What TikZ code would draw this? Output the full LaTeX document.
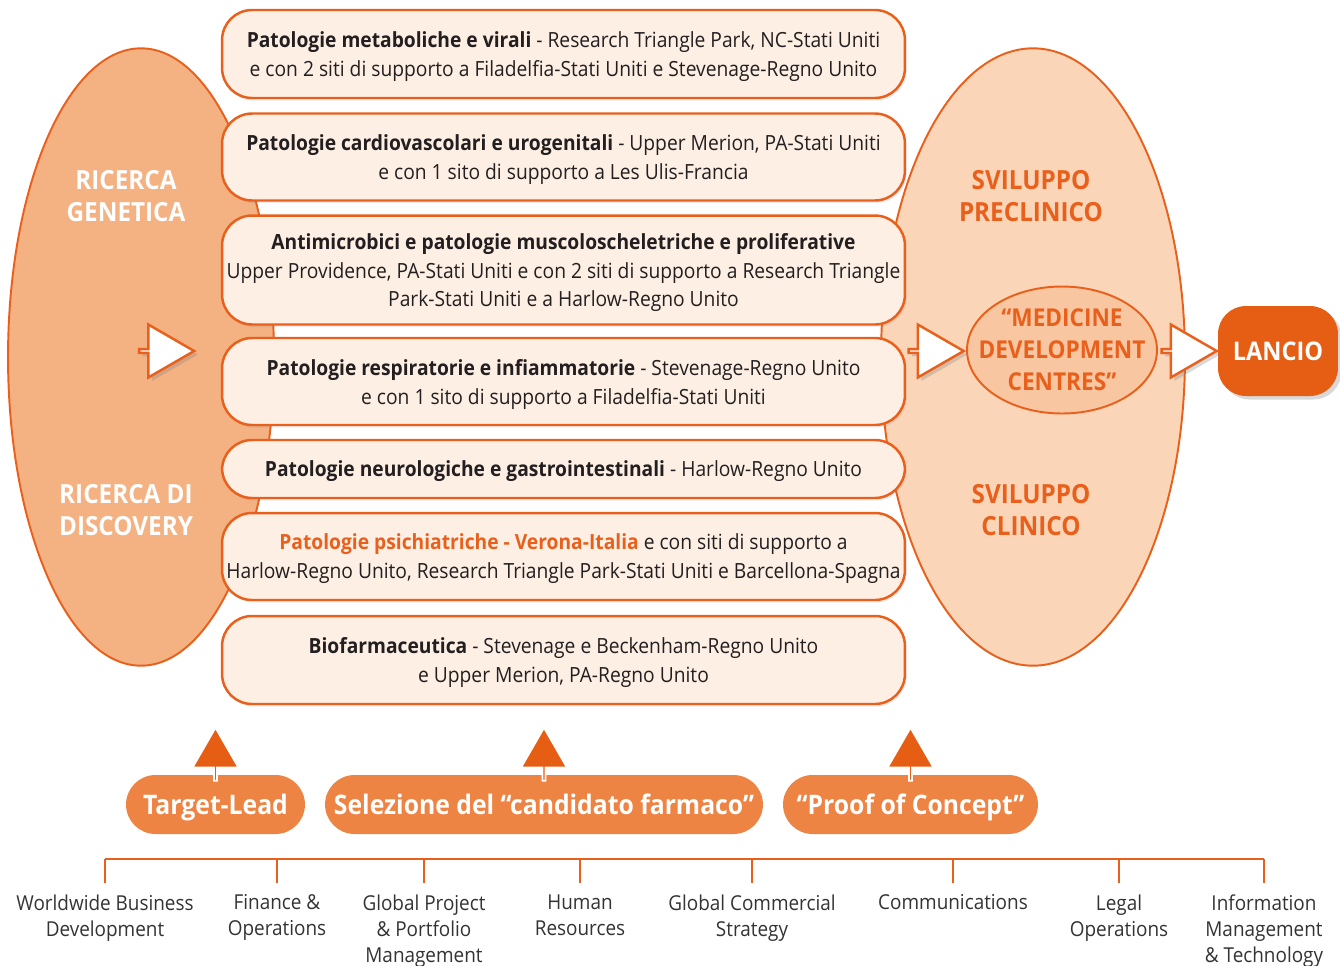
\documentclass[tikz,border=0pt]{standalone}
\usepackage{fontspec}
\setmainfont{Open Sans}[FakeStretch=0.92]
\usetikzlibrary{shapes.geometric,shapes.arrows,shadows}

\definecolor{gskorange}{HTML}{E8601C}
\definecolor{leftfill}{HTML}{F4B182}
\definecolor{rightfill}{HTML}{FAD5B7}
\definecolor{boxfill}{HTML}{FDEFE4}
\definecolor{mdcfill}{HTML}{F8C6A0}
\definecolor{pillfill}{HTML}{EE8443}
\definecolor{darkorange}{HTML}{E65E14}
\definecolor{testo}{HTML}{231F20}
\definecolor{grigio}{HTML}{333333}

\tikzset{
  sede/.style={draw=gskorange, line width=1.4pt, fill=boxfill, rounded corners=0.6cm,
    minimum width=13.66cm, inner xsep=0pt, text depth=-1.5pt, align=center, text=testo,
    font=\fontsize{11.9}{16.5}\selectfont,
    drop shadow={opacity=0.15, shadow xshift=1pt, shadow yshift=-1.5pt}},
  fase/.style={ellipse, draw=gskorange, line width=1.1pt, inner sep=0pt},
  titolo/.style={align=center, font=\bfseries\fontsize{15}{18.2}\selectfont},
  freccia/.style={single arrow, draw=gskorange, fill=white, line width=1.4pt, inner sep=0pt,
    minimum height=1.1cm, minimum width=1.06cm, single arrow head extend=0.31cm,
    single arrow tip angle=60, drop shadow={opacity=0.3, shadow xshift=2pt, shadow yshift=-2pt}},
  su/.style={single arrow, rotate=90, fill=darkorange, draw=white, line width=1pt,
    inner sep=0pt, minimum height=1.06cm, minimum width=0.92cm, single arrow head extend=0.26cm,
    single arrow tip angle=60},
  tappa/.style={fill=pillfill, rounded corners=0.59cm, minimum height=1.18cm, text=white,
    text height=11pt, text depth=0pt, font=\bfseries\fontsize{15.3}{18}\selectfont},
  funzione/.style={align=center, anchor=north, text=grigio, inner xsep=2pt, inner ysep=6.5pt,
    font=\fontsize{11.7}{14.8}\selectfont},
  albero/.style={draw=gskorange, line width=1.3pt}
}

\begin{document}
\begin{tikzpicture}[x=0.02cm, y=-0.02cm]
    % the picture is measured in pixels of the original
    \useasboundingbox (0,0) rectangle (1340,965);

    % Research and development phases
    \node[fase, fill=leftfill, minimum width=5.32cm, minimum height=12.35cm] (ricerca) at (141,357) {};
    \node[fase, fill=rightfill, minimum width=6.08cm, minimum height=12.35cm] (sviluppo) at (1033,357) {};

    \node[titolo, text=white] (genetica) at (126,196) {RICERCA\\GENETICA};
    \node[titolo, text=white] (discovery) at (126,510) {RICERCA DI\\DISCOVERY};
    \node[titolo, text=gskorange] (preclinico) at (1031,196) {SVILUPPO\\PRECLINICO};
    \node[titolo, text=gskorange] (clinico) at (1031,510) {SVILUPPO\\CLINICO};

    % Therapeutic areas and their sites
    \node[sede, minimum height=1.76cm] (metab) at (563.5,54)
        {\textbf{Patologie metaboliche e virali} - Research Triangle Park, NC-Stati Uniti\\
         e con 2 siti di supporto a Filadelfia-Stati Uniti e Stevenage-Regno Unito};
    \node[sede, minimum height=1.74cm] (cardio) at (563.5,157)
        {\textbf{Patologie cardiovascolari e urogenitali} - Upper Merion, PA-Stati Uniti\\
         e con 1 sito di supporto a Les Ulis-Francia};
    \node[sede, minimum height=2.18cm] (antimicro) at (563.5,270)
        {\textbf{Antimicrobici e patologie muscoloscheletriche e proliferative}\\
         Upper Providence, PA-Stati Uniti e con 2 siti di supporto a Research Triangle\\
         Park-Stati Uniti e a Harlow-Regno Unito};
    \node[sede, minimum height=1.74cm] (respir) at (563.5,381.5)
        {\textbf{Patologie respiratorie e infiammatorie} - Stevenage-Regno Unito\\
         e con 1 sito di supporto a Filadelfia-Stati Uniti};
    \node[sede, minimum height=1.16cm] (neuro) at (563.5,469)
        {\textbf{Patologie neurologiche e gastrointestinali} - Harlow-Regno Unito};
    \node[sede, minimum height=1.74cm] (psich) at (563.5,556.5)
        {{\color{gskorange}\bfseries Patologie psichiatriche - Verona-Italia} e con siti di supporto a\\
         Harlow-Regno Unito, Research Triangle Park-Stati Uniti e Barcellona-Spagna};
    \node[sede, minimum height=1.76cm] (biofarm) at (563.5,660)
        {\textbf{Biofarmaceutica} - Stevenage e Beckenham-Regno Unito\\
         e Upper Merion, PA-Regno Unito};

    % Medicine development centres and launch
    \node[fase, fill=mdcfill, minimum width=3.8cm, minimum height=2.54cm] (mdc) at (1062,350) {};
    \node[text=gskorange, align=center, font=\bfseries\fontsize{14}{18.2}\selectfont] (mdctxt)
        at (mdc.center) {“MEDICINE\\DEVELOPMENT\\CENTRES”};
    \node[fill=darkorange, rounded corners=0.56cm, minimum width=2.4cm, minimum height=1.8cm,
        text=white, text height=10.5pt, text depth=0pt, font=\bfseries\fontsize{14.6}{18}\selectfont,
        drop shadow={opacity=0.3, shadow xshift=2pt, shadow yshift=-2pt}] (lancio) at (1278,351) {LANCIO};

    % Flow arrows
    \node[freccia] (f1) at (165,351) {};
    \node[freccia] (f2) at (934.5,351) {};
    \node[freccia] (f3) at (1187.5,351) {};

    % Milestones
    \node[tappa, minimum width=3.58cm] (target) at (215.5,804.5) {Target-Lead};
    \node[tappa, minimum width=8.76cm] (selezione) at (544,804.5) {Selezione del “candidato farmaco”};
    \node[tappa, minimum width=5.1cm] (proof) at (910.5,804.5) {“Proof of Concept”};

    \node[su] (su1) at (215.5,755.5) {};
    \node[su] (su2) at (544,755.5) {};
    \node[su] (su3) at (910.5,755.5) {};

    % Support functions
    \node[funzione] (wbd) at (105,883) {Worldwide Business\\Development};
    \node[funzione] (fin) at (277,883) {Finance \&\\Operations};
    \node[funzione] (gpp) at (424,883) {Global Project\\\& Portfolio\\Management};
    \node[funzione] (hr) at (580,883) {Human\\Resources};
    \node[funzione] (gcs) at (752,883) {Global Commercial\\Strategy};
    \node[funzione] (comm) at (953,883) {Communications};
    \node[funzione] (legal) at (1119,883) {Legal\\Operations};
    \node[funzione] (imt) at (1264,883) {Information\\Management\\\& Technology};

    \coordinate (barL) at (105,859);
    \coordinate (barR) at (1264,859);
    \draw[albero] (barL) -- (barR);
    \foreach \f in {wbd,fin,gpp,hr,gcs,comm,legal,imt}
        \draw[albero] (\f.north) -- (\f.north |- barL);
\end{tikzpicture}
\end{document}
